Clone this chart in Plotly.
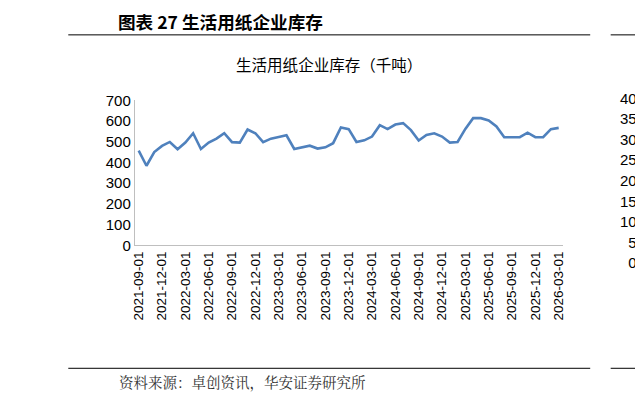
import plotly.graph_objects as go
import pandas as pd

dates = pd.date_range("2021-09-01", "2026-03-01", freq="MS").strftime("%Y-%m-%d").tolist()
values = [457,384,450,480,499,464,496,541,465,496,515,541,498,496,559,541,498,515,523,531,
          465,472,481,467,473,493,569,561,499,507,525,580,561,583,590,556,506,533,541,525,
          496,499,562,614,614,603,574,522,522,522,544,522,522,561,567]
tick_labels = dates[::3]
y_ticks = [0,100,200,300,400,500,600,700]
y2_ticks = [0,5,10,15,20,25,30,35,40]

W, H = 643, 401
S, OFF = 0.965, 15.0
def fx(s): return (s - OFF) / S
def px(x): return min(1, max(0, fx(x) / W))
def py(y): return min(1, max(0, 1 - fx(y) / H))
def fs(v): return v / S

fig = go.Figure()
fig.add_trace(go.Scatter(x=dates, y=values, mode="lines",
                         line=dict(color="#4F81BD", width=2.6), showlegend=False))
fig.add_trace(go.Scatter(x=[dates[0]], y=[None], xaxis="x2", yaxis="y2", showlegend=False))

num_font = dict(family="Liberation Sans, Arial", size=fs(14.5), color="#000")
tick_font = dict(family="Liberation Sans, Arial", size=fs(13), color="#000")
fig.update_layout(
    width=W, height=H, margin=dict(l=0, r=0, t=0, b=0),
    paper_bgcolor="white", plot_bgcolor="white",
    xaxis=dict(domain=[px(135), px(553)], type="category", categoryorder="array",
               categoryarray=dates, tickvals=tick_labels, tickangle=-90, tickfont=tick_font,
               showline=True, linecolor="#BFBFBF", linewidth=1, ticks="", showgrid=False,
               range=[-0.5, len(dates)-0.5], anchor="y"),
    yaxis=dict(domain=[py(245), py(99)], range=[0, 700], tickvals=y_ticks,
               tickfont=num_font, showline=True, linecolor="#BFBFBF", linewidth=1,
               showgrid=False, zeroline=False, ticks="", anchor="x"),
    xaxis2=dict(domain=[0.99, 1], type="category", tickvals=[dates[0]], tickangle=-90,
                tickfont=tick_font, showline=True, linecolor="#BFBFBF", ticks="",
                showgrid=False, anchor="y2"),
    yaxis2=dict(domain=[py(263), py(97)], range=[0, 40], tickvals=y2_ticks, anchor="x2",
                tickfont=num_font, showline=True, linecolor="#BFBFBF", showgrid=False,
                zeroline=False, ticks=""),
)

cjk = "Noto Sans CJK SC"
fig.add_annotation(x=px(117), y=py(20), xref="paper", yref="paper", xanchor="left", yanchor="middle",
                   text="<b>图表 27 生活用纸企业库存</b>", showarrow=False,
                   font=dict(family=cjk, size=fs(17), color="#000"))
fig.add_annotation(x=px(325), y=py(62), xref="paper", yref="paper", yanchor="middle",
                   text="生活用纸企业库存（千吨）", showarrow=False,
                   font=dict(family=cjk, size=fs(15), color="#000"))
fig.add_annotation(x=px(118), y=py(382), xref="paper", yref="paper", xanchor="left", yanchor="middle",
                   text="资料来源：卓创资讯，华安证券研究所", showarrow=False,
                   font=dict(family="Noto Serif CJK SC, " + cjk, size=fs(14), color="#333"))
for y0 in (33, 369):
    fig.add_shape(type="line", xref="paper", yref="paper", x0=px(70), x1=px(580),
                  y0=py(y0), y1=py(y0), line=dict(color="#000", width=1))
    fig.add_shape(type="line", xref="paper", yref="paper", x0=px(600), x1=1,
                  y0=py(y0), y1=py(y0), line=dict(color="#000", width=1))
fig.add_shape(type="line", xref="paper", yref="paper", x0=px(630), x1=1, y0=py(62), y1=py(62),
              line=dict(color="#4F81BD", width=3))

fig.write_html("out.html")
